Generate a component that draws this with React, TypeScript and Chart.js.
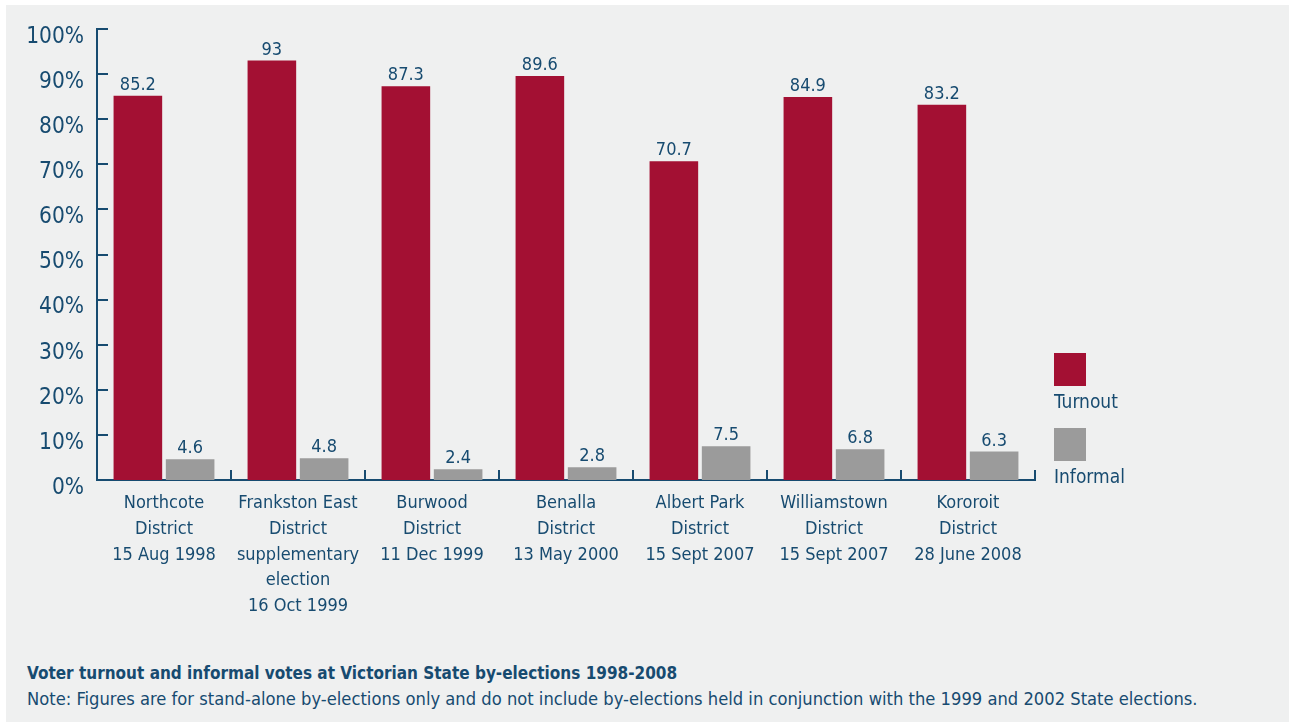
import React, { useEffect, useRef } from "react";
import { Chart, registerables } from "chart.js";

Chart.register(...registerables);

const categories: string[][] = [
  ["Northcote", "District", "15 Aug 1998"],
  ["Frankston East", "District", "supplementary", "election", "16 Oct 1999"],
  ["Burwood", "District", "11 Dec 1999"],
  ["Benalla", "District", "13 May 2000"],
  ["Albert Park", "District", "15 Sept 2007"],
  ["Williamstown", "District", "15 Sept 2007"],
  ["Kororoit", "District", "28 June 2008"],
];
const turnout: number[] = [85.2, 93, 87.3, 89.6, 70.7, 84.9, 83.2];
const informal: number[] = [4.6, 4.8, 2.4, 2.8, 7.5, 6.8, 6.3];
const seriesNames: string[] = ["Turnout", "Informal"];
const yTicks: number[] = [0, 10, 20, 30, 40, 50, 60, 70, 80, 90, 100];
const titleText = "Voter turnout and informal votes at Victorian State by-elections 1998-2008";
const noteText =
  "Note: Figures are for stand-alone by-elections only and do not include by-elections held in conjunction with the 1999 and 2002 State elections.";

const FONT = "'DejaVu Sans Condensed', 'Liberation Sans Narrow', sans-serif";
const TEXT = "#174b70";
const RED = "#a31033";
const GREY = "#9b9b9b";
const BG = "#eff0f0";

const decorPlugin = {
  id: "decor",
  afterDatasetsDraw(chart: any) {
    const ctx = chart.ctx;
    const ca = chart.chartArea;
    const y = chart.scales.y;
    ctx.save();
    ctx.strokeStyle = TEXT;
    ctx.lineWidth = 2;
    // y ticks pointing inward
    yTicks.forEach((v) => {
      if (v === 0) return;
      const py = Math.round(y.getPixelForValue(v));
      ctx.beginPath();
      ctx.moveTo(ca.left, py);
      ctx.lineTo(ca.left + 11, py);
      ctx.stroke();
    });
    // x category boundary ticks
    const n = categories.length;
    for (let i = 1; i <= n; i++) {
      const px = Math.round(ca.left + ((ca.right - ca.left) * i) / n);
      ctx.beginPath();
      ctx.moveTo(px, ca.bottom);
      ctx.lineTo(px, ca.bottom - 10);
      ctx.stroke();
    }
    // value labels
    ctx.fillStyle = TEXT;
    ctx.font = `18px ${FONT}`;
    ctx.textAlign = "center";
    ctx.textBaseline = "alphabetic";
    chart.data.datasets.forEach((ds: any, di: number) => {
      const meta = chart.getDatasetMeta(di);
      meta.data.forEach((bar: any, i: number) => {
        ctx.fillText(String(ds.data[i]), bar.x, bar.y - 6);
      });
    });
    // legend
    const lx = ca.right + 19;
    const entries = [
      { name: seriesNames[0], color: RED, boxTop: ca.bottom - 127 },
      { name: seriesNames[1], color: GREY, boxTop: ca.bottom - 52 },
    ];
    ctx.textAlign = "left";
    ctx.textBaseline = "middle";
    ctx.font = `19px ${FONT}`;
    entries.forEach((e) => {
      ctx.fillStyle = e.color;
      ctx.fillRect(lx, e.boxTop, 32, 33);
      ctx.fillStyle = TEXT;
      ctx.fillText(e.name, lx, e.boxTop + 50);
    });
    ctx.restore();
  },
};

export default function App() {
  const ref = useRef<HTMLCanvasElement | null>(null);
  useEffect(() => {
    document.body.style.margin = "0";
    document.body.style.background = "#ffffff";
    const chart = new Chart(ref.current as HTMLCanvasElement, {
      type: "bar",
      data: {
        labels: categories,
        datasets: [
          { label: seriesNames[0], data: turnout, backgroundColor: RED },
          { label: seriesNames[1], data: informal, backgroundColor: GREY },
        ],
      },
      plugins: [decorPlugin],
      options: {
        animation: false,
        responsive: false,
        maintainAspectRatio: false,
        layout: { padding: { left: 0, right: 254, top: 24, bottom: 0 } },
        datasets: { bar: { categoryPercentage: 0.78, barPercentage: 0.93 } },
        plugins: {
          legend: { display: false },
          tooltip: { enabled: false },
        },
        scales: {
          x: {
            grid: { display: false, drawTicks: false },
            border: { display: true, color: TEXT, width: 2 },
            ticks: {
              color: TEXT,
              font: { family: FONT, size: 18, lineHeight: 1.42 },
              padding: 11,
              maxRotation: 0,
              autoSkip: false,
            },
            afterFit: (s: any) => {
              s.height = 165;
              s.paddingLeft = 0;
              s.paddingRight = 0;
            },
          },
          y: {
            min: 0,
            max: 100,
            grid: { display: false, drawTicks: false },
            border: { display: true, color: TEXT, width: 2 },
            afterBuildTicks: (s: any) => {
              s.ticks = yTicks.map((v) => ({ value: v }));
            },
            ticks: {
              color: TEXT,
              font: { family: FONT, size: 22.5 },
              padding: 13,
              labelOffset: 8,
              callback: (v: any) => `${v}%`,
            },
            afterFit: (s: any) => {
              s.width = 91;
              s.paddingTop = 0;
              s.paddingBottom = 0;
            },
          },
        },
      },
    });
    return () => chart.destroy();
  }, []);

  return (
    <div style={{ position: "relative", width: 1289, height: 722, background: "#fff" }}>
      <div
        style={{
          position: "absolute",
          left: 6,
          top: 5,
          width: 1283,
          height: 717,
          background: BG,
          fontFamily: FONT,
          color: TEXT,
        }}
      >
        <canvas ref={ref} width={1283} height={640} style={{ display: "block" }} />
        <div
          style={{
            position: "absolute",
            left: 21,
            top: 656,
            fontSize: 17,
            fontWeight: "bold",
            lineHeight: "24px",
            whiteSpace: "nowrap",
          }}
        >
          {titleText}
        </div>
        <div
          style={{
            position: "absolute",
            left: 21,
            top: 682,
            fontSize: 18.2,
            lineHeight: "24px",
            whiteSpace: "nowrap",
          }}
        >
          {noteText}
        </div>
      </div>
    </div>
  );
}
